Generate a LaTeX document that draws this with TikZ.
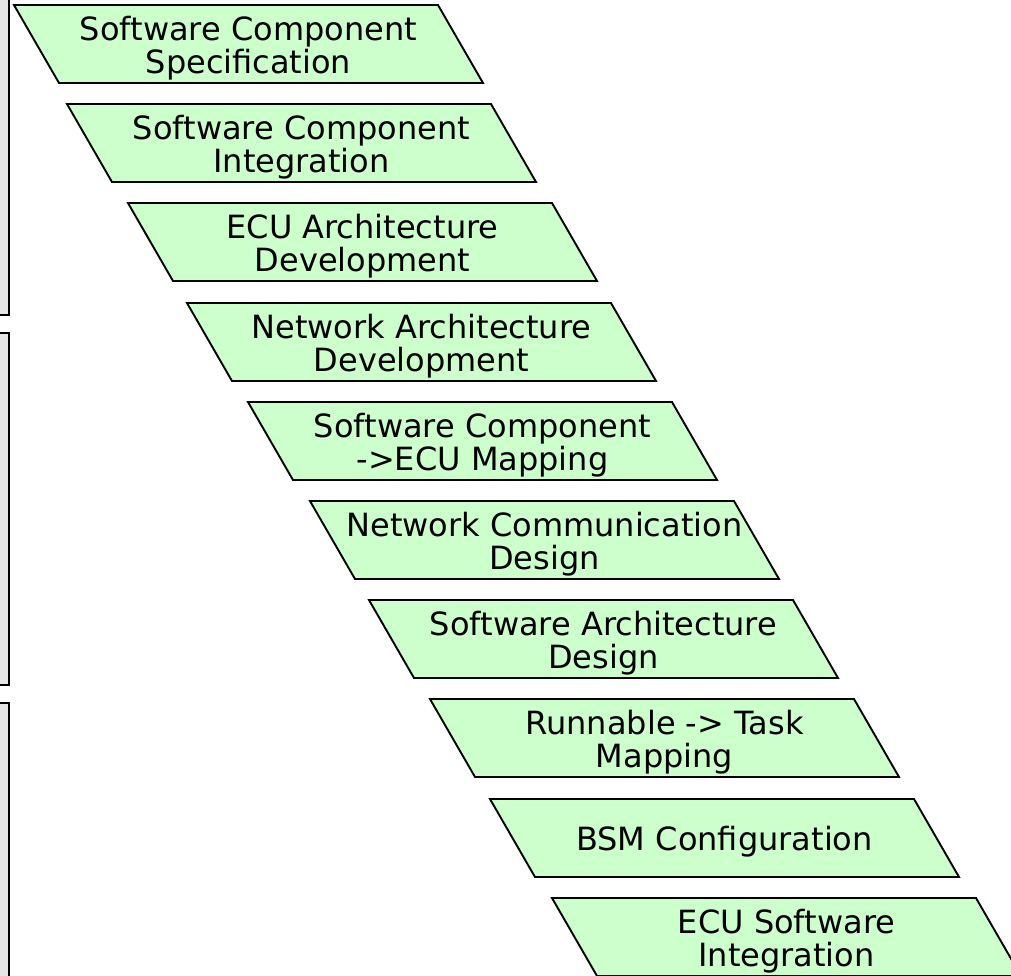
\documentclass[tikz,border=0pt]{standalone}
\usepackage{fontspec}
\setmainfont{DejaVu Sans}
\usetikzlibrary{positioning}
\definecolor{stagegreen}{RGB}{204,255,204}
\definecolor{lanegray}{RGB}{229,229,229}

\begin{document}
\begin{tikzpicture}[x=0.5pt,y=-0.5pt,
   stage/.style={draw=black,fill=stagegreen,line width=0.95pt,line join=miter},
   lane/.style={draw=black,fill=lanegray,line width=1pt},
   steptext/.style={align=center,inner sep=0pt,font=\fontsize{16}{16.5}\selectfont}]
   \useasboundingbox (0,0) rectangle (1011,975);
   % grey lanes at the left edge
   \draw[lane] (-10,-10) rectangle (9,315);
   \draw[lane] (-10,333) rectangle (9,685);
   \draw[lane] (-10,703) rectangle (9,990);
   % the staircase of steps
   \foreach \x/\y/\n/\t in {
      14/5/swc_spec/{Software Component\\Specification},
      67/104/swc_int/{Software Component\\Integration},
      128/203/ecu_arch/{ECU Architecture\\Development},
      187/303/net_arch/{Network Architecture\\Development},
      248/402/swc_map/{Software Component\\->ECU Mapping},
      310/501/net_com/{Network Communication\\Design},
      369/600/sw_arch/{Software Architecture\\Design},
      430/699/run_task/{Runnable -> Task\\Mapping},
      490/799/bsm_conf/{BSM Configuration},
      552/898/ecu_sw/{ECU Software\\Integration}}{
      \draw[stage] (\x,\y) -- ++(424,0) -- ++(45,78) -- ++(-424,0) -- cycle;
      \node[steptext] (\n) at (\x+234.5,\y+43) {\t};
   }
\end{tikzpicture}
\end{document}
